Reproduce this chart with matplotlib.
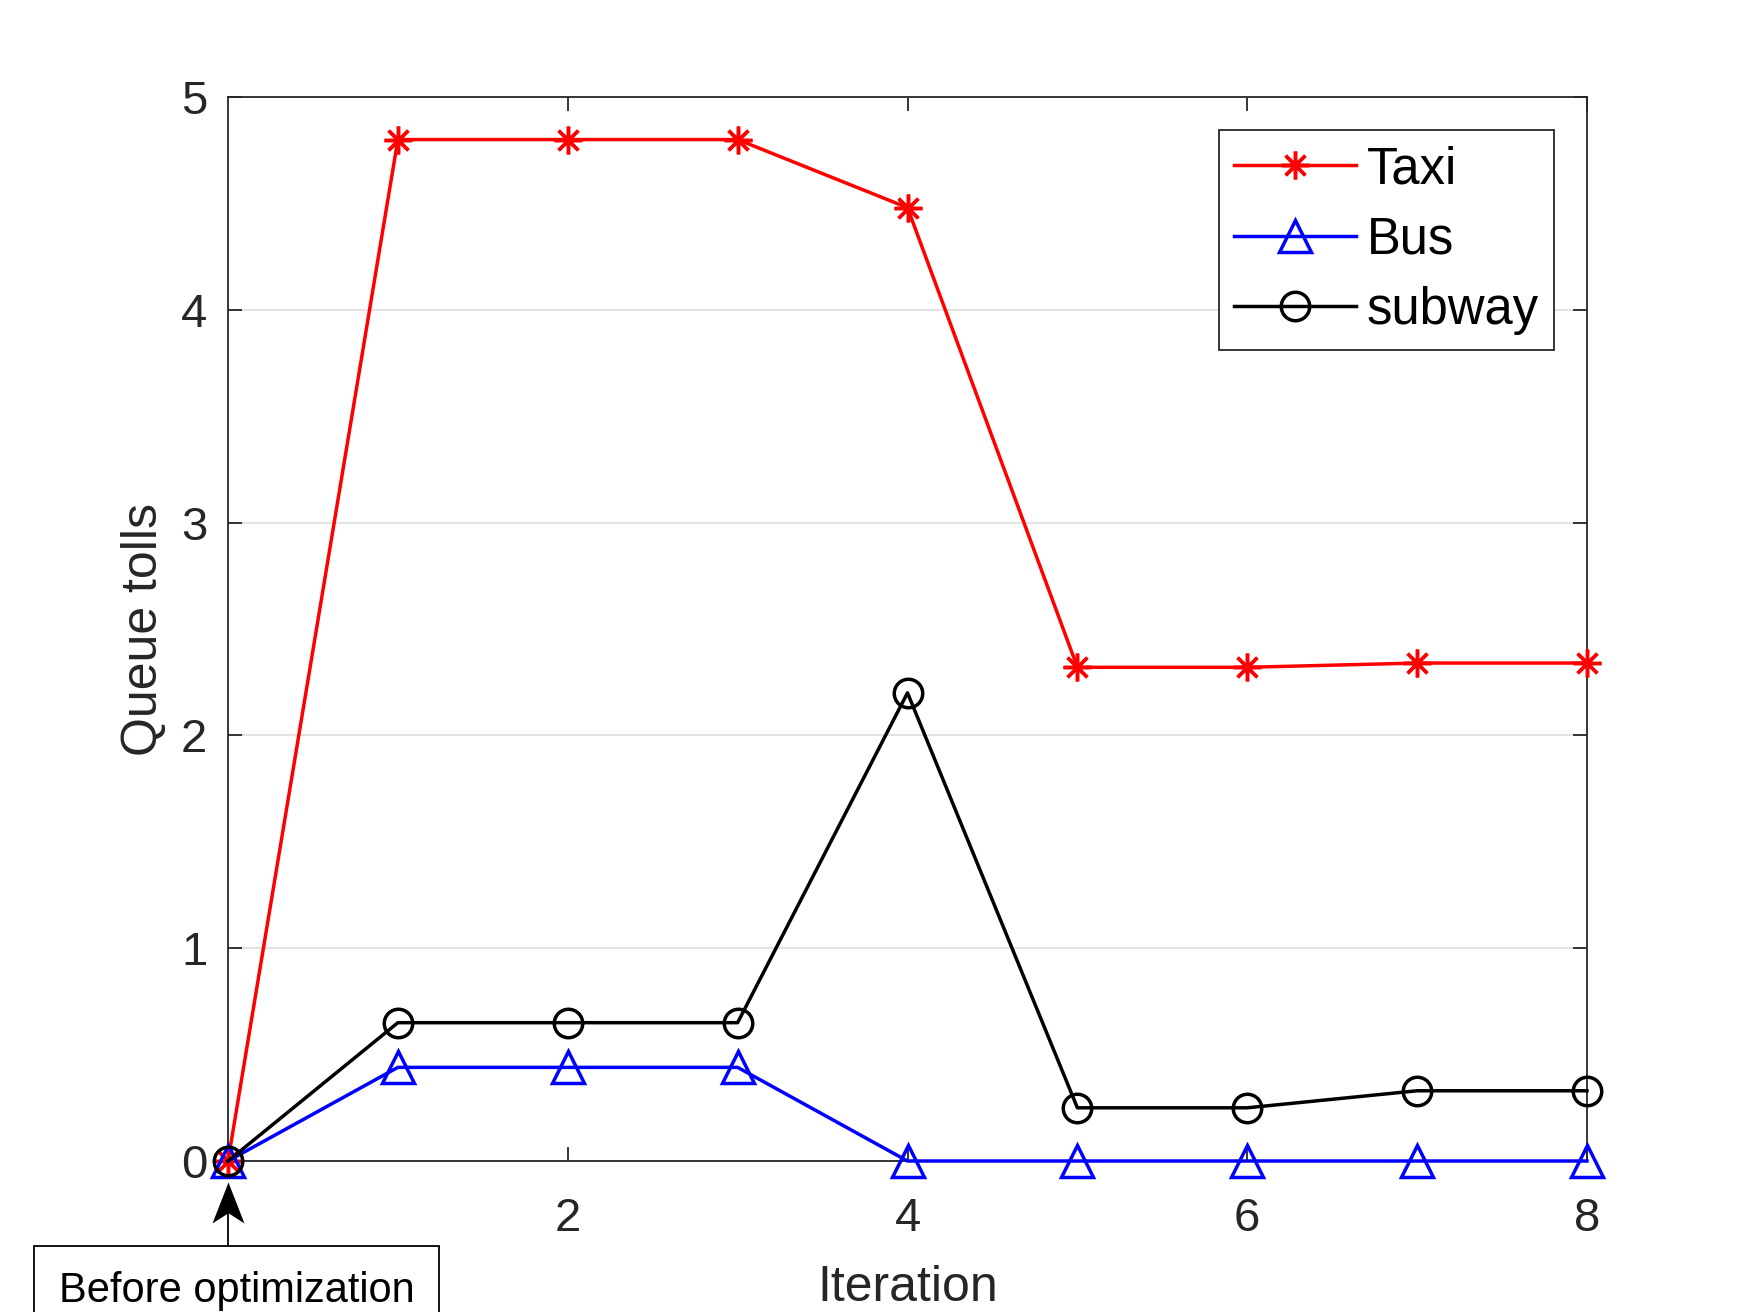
import matplotlib
matplotlib.use("Agg")
import matplotlib.pyplot as plt
import matplotlib.transforms as mtransforms
from matplotlib.path import Path

iterations = [0, 1, 2, 3, 4, 5, 6, 7, 8]
taxi = [0, 4.80, 4.80, 4.80, 4.48, 2.32, 2.32, 2.34, 2.34]
bus = [0, 0.44, 0.44, 0.44, 0, 0, 0, 0, 0]
subway = [0, 0.65, 0.65, 0.65, 2.20, 0.25, 0.25, 0.33, 0.33]
series_names = ["Taxi", "Bus", "subway"]
x_ticks = [2, 4, 6, 8]
y_ticks = [0, 1, 2, 3, 4, 5]

plt.rcParams['font.family'] = ['Liberation Sans', 'DejaVu Sans']
W, H = 1750, 1312
L, R, T, B = 228, 1587, 97, 1161
fig = plt.figure(figsize=(W / 100, H / 100), dpi=100)
ax = fig.add_axes([L / W, 1 - B / H, (R - L) / W, (B - T) / H])

dark = (0.15, 0.15, 0.15)
lw = 2.5
mew = 2.5
ax.plot(iterations, taxi, color=(1, 0, 0), lw=lw, marker=(8, 2, 0), ms=20,
        mew=mew, label=series_names[0], zorder=3, clip_on=False)
ax.plot(iterations, bus, color=(0, 0, 1), lw=lw, marker='^', ms=23,
        mfc='none', mew=mew, label=series_names[1], zorder=3, clip_on=False)
ax.plot(iterations, subway, color='black', lw=lw, marker='o', ms=20.5,
        mfc='none', mew=mew, label=series_names[2], zorder=3, clip_on=False)

ax.set_xlim(0, 8)
ax.set_ylim(0, 5)
ax.set_xticks(x_ticks)
ax.set_yticks(y_ticks)
ax.yaxis.grid(True, color=(0.87, 0.87, 0.87), lw=1.2)
ax.set_axisbelow(True)
ax.tick_params(direction='in', length=10, width=1.3, colors=dark,
               labelsize=34, top=True, right=True)
ax.tick_params(axis='x', pad=26)
ax.tick_params(axis='y', pad=15)
for s in ax.spines.values():
    s.set_color(dark)
    s.set_linewidth(1.3)

ax.set_xlabel('Iteration', fontsize=36, color=dark, labelpad=17)
ax.set_ylabel('Queue tolls', fontsize=36, color=dark, labelpad=10)

leg = ax.legend(loc='upper right',
                bbox_to_anchor=((1554 - L) / (R - L), (B - 130) / (B - T)),
                borderaxespad=0, fontsize=36.5, handlelength=2.4, handletextpad=0.22,
                labelspacing=0.42, borderpad=0.3, fancybox=False, framealpha=1)
leg.get_frame().set_edgecolor(dark)
leg.get_frame().set_linewidth(1.3)

# annotation: arrow pointing at the first point
tip_y = 1 - 1182 / H
notch_y = 1 - 1212 / H
box_y = 1 - 1247 / H
blend = mtransforms.blended_transform_factory(ax.transData, fig.transFigure)
ax.plot([0, 0], [notch_y, box_y], color='black', lw=1.3, transform=blend, clip_on=False)
head = Path([(0, 0), (-0.39, -1), (0, -0.75), (0.39, -1), (0, 0)],
            [Path.MOVETO, Path.LINETO, Path.LINETO, Path.LINETO, Path.CLOSEPOLY])
ax.plot([0], [tip_y], marker=head, ms=59, color='black', mew=0,
        transform=blend, clip_on=False)

ax.annotate('Before optimization', xy=(0, 1 - 1302 / H),
            xycoords=('data', 'figure fraction'),
            xytext=(8.5, 0), textcoords='offset pixels',
            ha='center', va='baseline', fontsize=30, color='black',
            bbox=dict(boxstyle='square,pad=0.6', fc='white', ec='black', lw=1.3))

fig.savefig('out.png', dpi=100)
